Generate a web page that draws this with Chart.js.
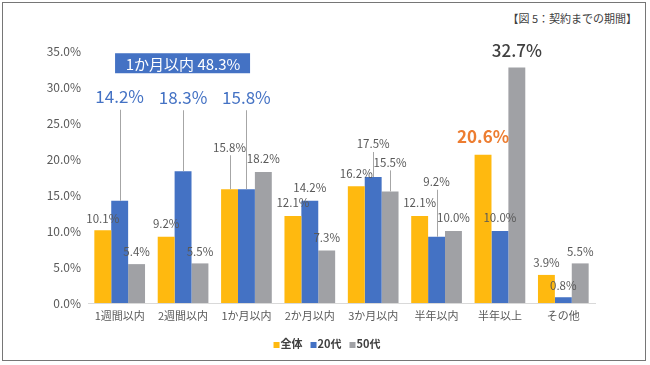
<!DOCTYPE html>
<html>
<head>
  <meta charset="UTF-8">
  <title>契約までの期間</title>
  <script src="https://cdn.jsdelivr.net/npm/chart.js"></script>
  <style>
    body {
      margin: 0;
      background: #fff;
      font-family: "Noto Sans CJK JP", sans-serif;
    }
    #frame {
      position: absolute;
      left: 2px;
      top: 2px;
      width: 642px;
      height: 357px;
      border: 1px solid #767676;
    }
    #figTitle {
      position: absolute;
      right: 13px;
      top: 10px;
      font-size: 11px;
      font-weight: 400;
      color: #404040;
    }
    #wrap {
      position: absolute;
      left: 0;
      top: 0;
      width: 650px;
      height: 365px;
    }
  </style>
</head>
<body>
  <div id="frame"></div>
  <div id="figTitle">【図 5：契約までの期間】</div>
  <div id="wrap"><canvas id="chart"></canvas></div>

  <script>
  // Data (%)
  const categories = ['1週間以内', '2週間以内', '1か月以内', '2か月以内', '3か月以内', '半年以内', '半年以上', 'その他'];
  const allValues   = [10.1, 9.2, 15.8, 12.1, 16.2, 12.1, 20.6, 3.9];
  const age20Values = [14.2, 18.3, 15.8, 14.2, 17.5, 9.2, 10.0, 0.8];
  const age50Values = [5.4, 5.5, 18.2, 7.3, 15.5, 10.0, 32.7, 5.5];
  const seriesNames = ['全体', '20代', '50代'];
  const yMin = 0, yMax = 35, yStep = 5;
  const calloutText = '1か月以内 48.3%';

  const colors = ['#FFB90F', '#4472C4', '#A0A1A5'];

  // label placement (px above the bar top), style and leader lines
  const labelLift = [
    [12, 13, 42, 13, 13, 13, 18, 12],
    [104, 74, 92, 13, 33, 55, 13, 12],
    [12, 12, 13, 13, 29, 13, 17, 12]
  ];
  const labelKind = [
    ['n', 'n', 'n', 'n', 'n', 'n', 'o', 'n'],
    ['b', 'b', 'b', 'n', 'n', 'n', 'n', 'n'],
    ['n', 'n', 'n', 'n', 'n', 'n', 'd', 'n']
  ];
  const leader = [
    [0, 0, 1, 0, 0, 0, 0, 0],
    [1, 1, 1, 0, 1, 1, 0, 0],
    [0, 0, 0, 0, 1, 0, 0, 0]
  ];
  const kindFont = {
    n: ['400 11.5px "Noto Sans CJK JP"', '#595959'],
    b: ['400 17px "Noto Sans CJK JP"', '#4472C4'],
    o: ['700 17px "Noto Sans CJK JP"', '#ED7D31'],
    d: ['500 17px "Noto Sans CJK JP"', '#404040']
  };

  Chart.defaults.font.family = '"Noto Sans CJK JP", sans-serif';
  Chart.defaults.color = '#595959';

  // Draw value labels, leader lines, the callout box and a compact legend
  const labelPlugin = {
    id: 'barLabels',
    afterDatasetsDraw(chart) {
      const ctx = chart.ctx;
      ctx.save();
      ctx.textAlign = 'center';
      ctx.textBaseline = 'middle';
      chart.data.datasets.forEach((ds, i) => {
        const meta = chart.getDatasetMeta(i);
        meta.data.forEach((bar, j) => {
          const kind = labelKind[i][j];
          const ly = bar.y - labelLift[i][j];
          if (leader[i][j]) {
            ctx.strokeStyle = '#A6A6A6';
            ctx.lineWidth = 1;
            ctx.beginPath();
            ctx.moveTo(Math.round(bar.x) + 0.5, ly + (kind === 'n' ? 8 : 13));
            ctx.lineTo(Math.round(bar.x) + 0.5, bar.y);
            ctx.stroke();
          }
          ctx.font = kindFont[kind][0];
          ctx.fillStyle = kindFont[kind][1];
          ctx.fillText(ds.data[j].toFixed(1) + '%', bar.x, ly);
        });
      });

      // callout box over the first three groups
      const xs = chart.scales.x, ys = chart.scales.y;
      const cx = xs.getPixelForValue(1), cy = ys.getPixelForValue(33.3);
      ctx.fillStyle = '#4472C4';
      ctx.fillRect(cx - 68, cy - 10, 135, 20);
      ctx.font = '400 15px "Noto Sans CJK JP"';
      ctx.fillStyle = '#fff';
      ctx.fillText(calloutText, cx, cy + 1);

      // legend: small square right before each name
      ctx.font = '700 11px "Noto Sans CJK JP"';
      ctx.textAlign = 'left';
      const gap = 8, box = 6;
      const widths = chart.data.datasets.map(ds => box + 1 + ctx.measureText(ds.label).width);
      const total = widths.reduce((a, b) => a + b, 0) + gap * (widths.length - 1);
      let lx = 327 - total / 2;
      const lyMid = 344;
      chart.data.datasets.forEach((ds, i) => {
        ctx.fillStyle = ds.backgroundColor;
        ctx.fillRect(lx, lyMid - 2, box, box);
        ctx.fillStyle = '#404040';
        ctx.fillText(ds.label, lx + box + 1, lyMid);
        lx += widths[i] + gap;
      });
      ctx.restore();
    }
  };

  new Chart(document.getElementById('chart'), {
    type: 'bar',
    data: {
      labels: categories,
      datasets: [
        { label: seriesNames[0], data: allValues, backgroundColor: colors[0] },
        { label: seriesNames[1], data: age20Values, backgroundColor: colors[1] },
        { label: seriesNames[2], data: age50Values, backgroundColor: colors[2] }
      ]
    },
    options: {
      responsive: true,
      maintainAspectRatio: false,
      animation: false,
      layout: { padding: { top: 51, right: 55, bottom: 37, left: 0 } },
      datasets: { bar: { categoryPercentage: 0.8, barPercentage: 1.0 } },
      scales: {
        x: {
          grid: { display: false, drawTicks: false },
          border: { color: '#D9D9D9', width: 1 },
          ticks: { font: { size: 11 }, color: '#595959', padding: 6 },
          afterFit: (s) => { s.height = 25; }
        },
        y: {
          min: yMin,
          max: yMax,
          grid: { display: false, drawTicks: false },
          border: { display: false },
          ticks: {
            stepSize: yStep,
            padding: 7,
            font: { size: 12 },
            color: '#595959',
            callback: (v) => v.toFixed(1) + '%'
          },
          afterFit: (s) => { s.width = 88; }
        }
      },
      plugins: {
        legend: { display: false },
        tooltip: { enabled: false }
      }
    },
    plugins: [labelPlugin]
  });
  </script>
</body>
</html>
